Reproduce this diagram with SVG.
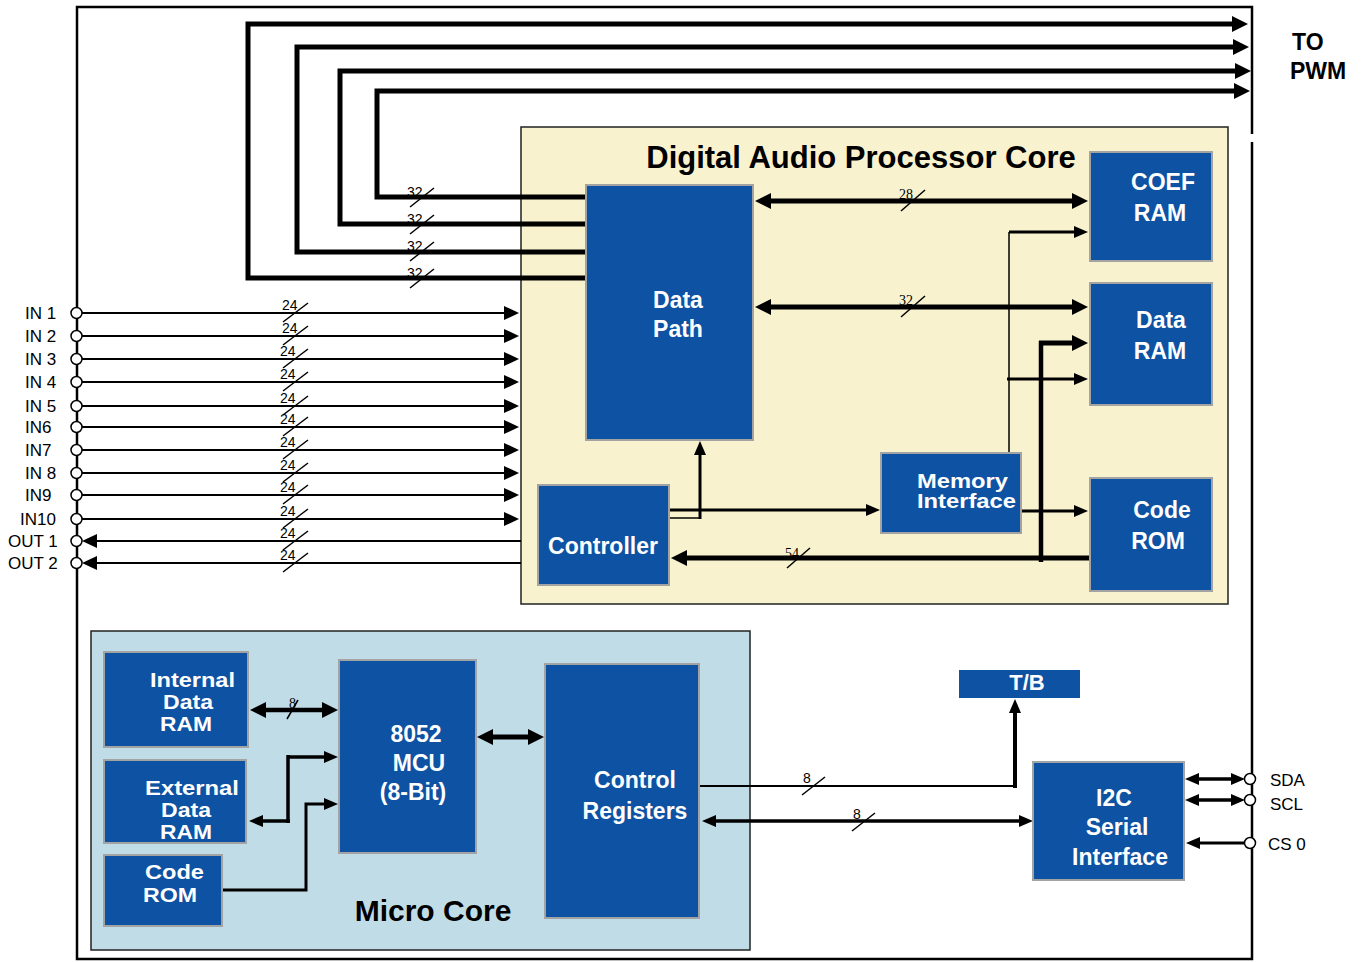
<svg xmlns="http://www.w3.org/2000/svg" width="1364" height="962" viewBox="0 0 1364 962">
<style>
.blk{fill:#0E52A3;stroke:#A3A3A3;stroke-width:2}
.bt{fill:#fff;font-family:"Liberation Sans",Arial,sans-serif;font-weight:bold;font-size:23px;text-anchor:middle}
.bs{fill:#fff;font-family:"Liberation Sans",Arial,sans-serif;font-weight:bold;font-size:20px;text-anchor:middle}
.ttl{fill:#000;font-family:"Liberation Sans",Arial,sans-serif;font-weight:bold;text-anchor:middle}
.pin{fill:#000;font-family:"Liberation Sans",Arial,sans-serif;font-size:17px}
.w{fill:none;stroke:#000}
.pc{fill:#fff;stroke:#000;stroke-width:1.5}
.bl{font-family:"Liberation Sans",Arial,sans-serif;font-size:14px;fill:#000}
.bls{font-family:"Liberation Serif","Times New Roman",serif;font-size:14px;fill:#000}
.sl{stroke:#000;stroke-width:1.5}
</style>
<defs>
<marker id="A" markerUnits="userSpaceOnUse" markerWidth="16" markerHeight="16" refX="10" refY="8" orient="auto-start-reverse"><path d="M0,0 L16,8 L0,16 z" fill="#000"/></marker>
<marker id="B" markerUnits="userSpaceOnUse" markerWidth="14" markerHeight="12" refX="8" refY="6" orient="auto-start-reverse"><path d="M0,0 L14,6 L0,12 z" fill="#000"/></marker>
<marker id="C" markerUnits="userSpaceOnUse" markerWidth="15" markerHeight="14" refX="9" refY="7" orient="auto-start-reverse"><path d="M0,0 L15,7 L0,14 z" fill="#000"/></marker>
</defs>
<rect width="1364" height="962" fill="#fff"/>
<g id="frame" class="w" stroke-width="2.5">
<path d="M1252,134 V7 H77 V959 H1252 V142"/>
</g>
<g id="dap-core">
<rect x="521" y="127" width="707" height="477" fill="#F8F2CF" stroke="#222" stroke-width="1.5"/>
<text class="ttl" x="861" y="168" font-size="31">Digital Audio Processor Core</text>
</g>
<g id="micro-core">
<rect x="91" y="631" width="659" height="319" fill="#C0DCE6" stroke="#222" stroke-width="1.5"/>
<text class="ttl" x="433" y="921" font-size="30">Micro Core</text>
</g>
<g id="pwm-label">
<text class="ttl" x="1292" y="50" font-size="23" style="text-anchor:start">TO</text>
<text class="ttl" x="1290" y="79" font-size="23" style="text-anchor:start">PWM</text>
</g>
<g id="connectors" fill="none" stroke="#000">
<path d="M585,278 H248 V24 H1242" stroke-width="5" marker-end="url(#A)"/>
<path d="M585,252 H297 V47 H1243" stroke-width="5" marker-end="url(#A)"/>
<path d="M585,224 H340 V71 H1245" stroke-width="5" marker-end="url(#A)"/>
<path d="M585,197 H377 V91 H1244" stroke-width="5" marker-end="url(#A)"/>
<g stroke-width="2" marker-end="url(#C)">
<path d="M82,313 H513"/>
<path d="M82,336 H513"/>
<path d="M82,359 H513"/>
<path d="M82,382 H513"/>
<path d="M82,406 H513"/>
<path d="M82,427 H513"/>
<path d="M82,450 H513"/>
<path d="M82,473 H513"/>
<path d="M82,495 H513"/>
<path d="M82,519 H513"/>
<path d="M521,541 H88"/>
<path d="M521,563 H88"/>
</g>
<path d="M761,201 H1082" stroke-width="5" marker-start="url(#A)" marker-end="url(#A)"/>
<path d="M761,307 H1082" stroke-width="5" marker-start="url(#A)" marker-end="url(#A)"/>
<path d="M1009,453 V232" stroke-width="1.5"/>
<path d="M1009,232 H1082" stroke-width="3" marker-end="url(#B)"/>
<path d="M1007,379 H1082" stroke-width="3" marker-end="url(#B)"/>
<path d="M1041,562 V341" stroke-width="4.5"/>
<path d="M1039,343 H1082" stroke-width="5" marker-end="url(#A)"/>
<path d="M1090,558 H677" stroke-width="5" marker-end="url(#A)"/>
<path d="M1022,511 H1082" stroke-width="3" marker-end="url(#B)"/>
<path d="M669,510 H874" stroke-width="3" marker-end="url(#B)"/>
<path d="M669,518 H700" stroke-width="1.5"/>
<path d="M700,519 V447" stroke-width="3" marker-end="url(#B)"/>
<path d="M256,710 H332" stroke-width="4.5" marker-start="url(#A)" marker-end="url(#A)"/>
<path d="M288,757 H332" stroke-width="3.5" marker-end="url(#B)"/>
<path d="M288,755 V823" stroke-width="3.5"/>
<path d="M290,821 H255" stroke-width="3.5" marker-end="url(#B)"/>
<path d="M223,890 H306 V804 H332" stroke-width="3" marker-end="url(#B)"/>
<path d="M483,737 H538" stroke-width="5" marker-start="url(#A)" marker-end="url(#A)"/>
<path d="M700,786 H1016" stroke-width="2"/>
<path d="M1015,788 V705" stroke-width="4" marker-end="url(#B)"/>
<path d="M708,821 H1027" stroke-width="3.5" marker-start="url(#B)" marker-end="url(#B)"/>
<path d="M1191,779 H1239" stroke-width="3.5" marker-start="url(#B)" marker-end="url(#B)"/>
<path d="M1191,800 H1239" stroke-width="3.5" marker-start="url(#B)" marker-end="url(#B)"/>
<path d="M1244,843 H1192" stroke-width="3" marker-end="url(#B)"/>
</g>
<g id="bus-labels">
<g class="sl">
<line x1="410" y1="207" x2="434" y2="188"/>
<line x1="410" y1="234" x2="434" y2="215"/>
<line x1="410" y1="261" x2="434" y2="242"/>
<line x1="410" y1="288" x2="434" y2="269"/>
<line x1="283" y1="322" x2="308" y2="303"/>
<line x1="283" y1="345" x2="308" y2="326"/>
<line x1="283" y1="368" x2="308" y2="349"/>
<line x1="283" y1="391" x2="308" y2="372"/>
<line x1="283" y1="415" x2="308" y2="396"/>
<line x1="283" y1="436" x2="308" y2="417"/>
<line x1="283" y1="459" x2="308" y2="440"/>
<line x1="283" y1="482" x2="308" y2="463"/>
<line x1="283" y1="504" x2="308" y2="485"/>
<line x1="283" y1="528" x2="308" y2="509"/>
<line x1="283" y1="550" x2="308" y2="531"/>
<line x1="283" y1="572" x2="308" y2="553"/>
<line x1="901" y1="211" x2="925" y2="190"/>
<line x1="901" y1="317" x2="925" y2="296"/>
<line x1="787" y1="568" x2="810" y2="548"/>
<line x1="287" y1="719" x2="298" y2="700"/>
<line x1="802" y1="795" x2="825" y2="777"/>
<line x1="852" y1="831" x2="875" y2="813"/>
</g>
<text class="bl" x="407" y="197">32</text>
<text class="bl" x="407" y="224">32</text>
<text class="bl" x="407" y="251">32</text>
<text class="bl" x="407" y="278">32</text>
<text class="bl" x="282" y="310">24</text>
<text class="bl" x="282" y="333">24</text>
<text class="bl" x="280" y="356">24</text>
<text class="bl" x="280" y="379">24</text>
<text class="bl" x="280" y="403">24</text>
<text class="bl" x="280" y="424">24</text>
<text class="bl" x="280" y="447">24</text>
<text class="bl" x="280" y="470">24</text>
<text class="bl" x="280" y="492">24</text>
<text class="bl" x="280" y="516">24</text>
<text class="bl" x="280" y="538">24</text>
<text class="bl" x="280" y="560">24</text>
<text class="bls" x="899" y="199">28</text>
<text class="bls" x="899" y="305">32</text>
<text class="bls" x="785" y="558">54</text>
<text class="bls" x="289" y="708" font-size="13">8</text>
<text class="bl" x="803" y="783" font-size="15">8</text>
<text class="bl" x="853" y="819" font-size="15">8</text>
</g>
<g id="pins">
<circle class="pc" cx="76.5" cy="313" r="5.5"/>
<circle class="pc" cx="76.5" cy="336" r="5.5"/>
<circle class="pc" cx="76.5" cy="359" r="5.5"/>
<circle class="pc" cx="76.5" cy="382" r="5.5"/>
<circle class="pc" cx="76.5" cy="406" r="5.5"/>
<circle class="pc" cx="76.5" cy="427" r="5.5"/>
<circle class="pc" cx="76.5" cy="450" r="5.5"/>
<circle class="pc" cx="76.5" cy="473" r="5.5"/>
<circle class="pc" cx="76.5" cy="495" r="5.5"/>
<circle class="pc" cx="76.5" cy="519" r="5.5"/>
<circle class="pc" cx="76.5" cy="541" r="5.5"/>
<circle class="pc" cx="76.5" cy="563" r="5.5"/>
<circle class="pc" cx="1250" cy="779" r="5.5"/>
<circle class="pc" cx="1250" cy="800" r="5.5"/>
<circle class="pc" cx="1250" cy="843" r="5.5"/>
<text class="pin" x="25" y="319">IN 1</text>
<text class="pin" x="25" y="342">IN 2</text>
<text class="pin" x="25" y="365">IN 3</text>
<text class="pin" x="25" y="388">IN 4</text>
<text class="pin" x="25" y="412">IN 5</text>
<text class="pin" x="25" y="433">IN6</text>
<text class="pin" x="25" y="456">IN7</text>
<text class="pin" x="25" y="479">IN 8</text>
<text class="pin" x="25" y="501">IN9</text>
<text class="pin" x="20" y="525">IN10</text>
<text class="pin" x="8" y="547">OUT 1</text>
<text class="pin" x="8" y="569">OUT 2</text>
<text class="pin" x="1270" y="786" font-size="18">SDA</text>
<text class="pin" x="1270" y="810" font-size="18">SCL</text>
<text class="pin" x="1268" y="850" font-size="18">CS 0</text>
</g>
<g id="data-path">
<rect class="blk" x="586" y="185" width="167" height="255"/>
<text class="bt" x="678" y="308">Data</text>
<text class="bt" x="678" y="337">Path</text>
</g>
<g id="coef-ram">
<rect class="blk" x="1090" y="152" width="122" height="109"/>
<text class="bt" x="1163" y="190">COEF</text>
<text class="bt" x="1160" y="221">RAM</text>
</g>
<g id="data-ram">
<rect class="blk" x="1090" y="283" width="122" height="122"/>
<text class="bt" x="1161" y="328">Data</text>
<text class="bt" x="1160" y="359">RAM</text>
</g>
<g id="code-rom">
<rect class="blk" x="1090" y="478" width="122" height="113"/>
<text class="bt" x="1162" y="518">Code</text>
<text class="bt" x="1158" y="549">ROM</text>
</g>
<g id="controller">
<rect class="blk" x="538" y="485" width="131" height="100"/>
<text class="bt" x="603" y="554">Controller</text>
</g>
<g id="memory-interface">
<rect class="blk" x="881" y="453" width="140" height="80"/>
<text class="bs" x="917" y="488" style="text-anchor:start" textLength="91" lengthAdjust="spacingAndGlyphs">Memory</text>
<text class="bs" x="917" y="508" style="text-anchor:start" textLength="99" lengthAdjust="spacingAndGlyphs">Interface</text>
</g>
<g id="internal-data-ram">
<rect class="blk" x="104" y="652" width="144" height="95"/>
<text class="bs" x="150" y="687" style="text-anchor:start" textLength="85" lengthAdjust="spacingAndGlyphs">Internal</text>
<text class="bs" x="163" y="709" style="text-anchor:start" textLength="50" lengthAdjust="spacingAndGlyphs">Data</text>
<text class="bs" x="160" y="731" style="text-anchor:start" textLength="52" lengthAdjust="spacingAndGlyphs">RAM</text>
</g>
<g id="external-data-ram">
<rect class="blk" x="104" y="760" width="142" height="83"/>
<text class="bs" x="145" y="795" style="text-anchor:start" textLength="94" lengthAdjust="spacingAndGlyphs">External</text>
<text class="bs" x="161" y="817" style="text-anchor:start" textLength="50" lengthAdjust="spacingAndGlyphs">Data</text>
<text class="bs" x="160" y="839" style="text-anchor:start" textLength="52" lengthAdjust="spacingAndGlyphs">RAM</text>
</g>
<g id="micro-code-rom">
<rect class="blk" x="104" y="855" width="118" height="71"/>
<text class="bs" x="145" y="879" style="text-anchor:start" textLength="59" lengthAdjust="spacingAndGlyphs">Code</text>
<text class="bs" x="143" y="902" style="text-anchor:start" textLength="54" lengthAdjust="spacingAndGlyphs">ROM</text>
</g>
<g id="mcu">
<rect class="blk" x="339" y="660" width="137" height="193"/>
<text class="bt" x="416" y="742">8052</text>
<text class="bt" x="419" y="771">MCU</text>
<text class="bt" x="413" y="800">(8-Bit)</text>
</g>
<g id="control-registers">
<rect class="blk" x="545" y="664" width="154" height="254"/>
<text class="bt" x="635" y="788">Control</text>
<text class="bt" x="635" y="819">Registers</text>
</g>
<g id="tb">
<rect x="959" y="670" width="121" height="28" fill="#0E52A3"/>
<text class="bt" x="1027" y="690" style="font-size:22px">T/B</text>
</g>
<g id="i2c">
<rect class="blk" x="1033" y="762" width="151" height="118"/>
<text class="bt" x="1114" y="806">I2C</text>
<text class="bt" x="1117" y="835">Serial</text>
<text class="bt" x="1120" y="865">Interface</text>
</g>
</svg>
